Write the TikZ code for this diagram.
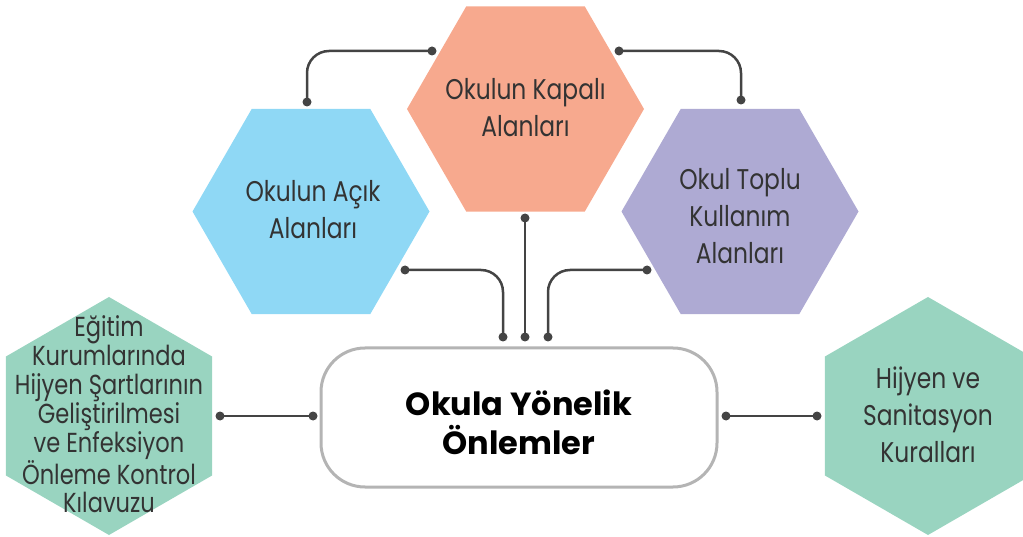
\documentclass[tikz,border=0pt]{standalone}
\usepackage{fontspec}
\setmainfont{Poppins}[FakeStretch=0.82]
\newfontfamily\boldfam{Poppins}
\usetikzlibrary{shapes.geometric}
\definecolor{cblue}{RGB}{143,216,245}
\definecolor{csalmon}{RGB}{247,169,142}
\definecolor{cpurple}{RGB}{174,170,211}
\definecolor{cmint}{RGB}{153,212,192}
\definecolor{ctext}{RGB}{51,51,51}
\definecolor{cline}{RGB}{68,68,68}
\definecolor{cborder}{RGB}{180,180,180}
\tikzset{
  hexflat/.style={regular polygon, regular polygon sides=6, minimum size=237pt, inner sep=0pt, draw=none},
  hexup/.style={regular polygon, regular polygon sides=6, regular polygon rotate=30, minimum size=238pt, inner sep=0pt, draw=none},
  bigtxt/.style={text=ctext, align=center, font=\fontsize{28.5}{37}\selectfont},
  smalltxt/.style={text=ctext, align=center, font=\fontsize{27.5}{28.8}\selectfont},
  dotnode/.style={circle, fill=cline, inner sep=0pt, minimum size=9pt},
  conn/.style={draw=cline, line width=2.5pt, rounded corners=22pt},
  centerbox/.style={draw=cborder, line width=3pt, rounded corners=44pt, fill=white, minimum width=396pt, minimum height=139pt}
}
\begin{document}
\begin{tikzpicture}[x=1pt,y=-1pt]
\useasboundingbox (0,0) rectangle (1023,537);
\clip (0,0) rectangle (1023,537);
% hexagons
\node[hexflat, fill=csalmon] (kap) at (525.5,109) {};
\node[hexflat, fill=cblue] (acik) at (311,211.5) {};
\node[hexflat, fill=cpurple] (top) at (740,211.5) {};
\node[hexup, fill=cmint] (egit) at (109,416) {};
\node[hexup, fill=cmint] (hij) at (928,416) {};
% texts
\node[bigtxt] (kapt) at (525.5,108) {Okulun Kapalı\\Alanları};
\node[bigtxt] (acikt) at (313,209.5) {Okulun Açık\\Alanları};
\node[bigtxt] (topt) at (740,216) {Okul Toplu\\Kullanım\\Alanları};
\node[smalltxt] (egitt) at (109,414.5) {Eğitim\\Kurumlarında\\Hijyen Şartlarının\\Geliştirilmesi\\ve Enfeksiyon\\Önleme Kontrol\\Kılavuzu};
\node[bigtxt] (hijt) at (928,415) {Hijyen ve\\Sanitasyon\\Kuralları};
% center
\node[centerbox] (c) at (519,417.5) {};
\node[text=black, align=center, font=\boldfam\fontsize{32}{39}\selectfont\bfseries] (ct) at (519,422) {Okula Yönelik\\Önlemler};
% dots
\node[dotnode] (d1a) at (432,51) {};
\node[dotnode] (d1b) at (307,102) {};
\node[dotnode] (d2a) at (619,51) {};
\node[dotnode] (d2b) at (741,100) {};
\node[dotnode] (d3a) at (525,218) {};
\node[dotnode] (d3b) at (525,337) {};
\node[dotnode] (d4a) at (405,270) {};
\node[dotnode] (d4b) at (503,337) {};
\node[dotnode] (d5a) at (647,270) {};
\node[dotnode] (d5b) at (548,337) {};
\node[dotnode] (d6a) at (220,416) {};
\node[dotnode] (d6b) at (313,416) {};
\node[dotnode] (d7a) at (726,416) {};
\node[dotnode] (d7b) at (817,416) {};
% connectors
\draw[conn] (d1a.center) -| (d1b.center);
\draw[conn] (d2a.center) -| (d2b.center);
\draw[conn] (d3a.center) -- (d3b.center);
\draw[conn] (d4a.center) -| (d4b.center);
\draw[conn] (d5a.center) -| (d5b.center);
\draw[conn] (d6a.center) -- (d6b.center);
\draw[conn] (d7a.center) -- (d7b.center);
\end{tikzpicture}
\end{document}
